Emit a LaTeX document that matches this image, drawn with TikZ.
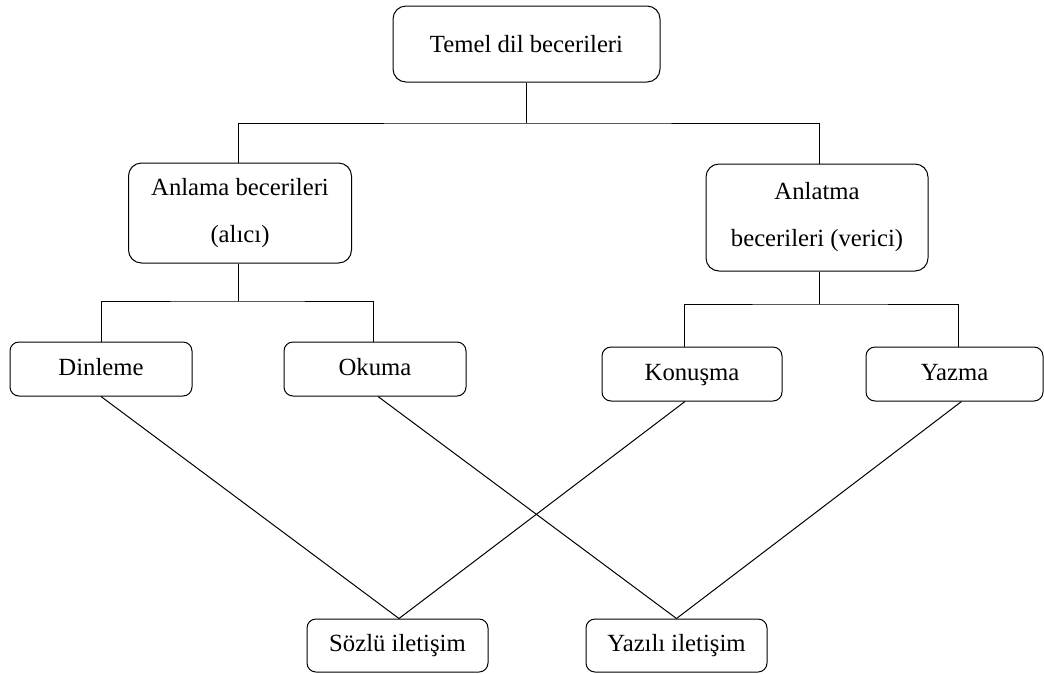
\documentclass[tikz,border=0pt]{standalone}
\usepackage{fontspec}
\setmainfont{Liberation Serif}
\begin{document}
\begin{tikzpicture}[x=1pt,y=-1pt,line width=1pt,
  box/.style={draw, rounded corners=13pt, inner sep=0pt, align=center,
    font=\fontsize{24.7}{47}\selectfont},
  small/.style={draw, rounded corners=9pt, inner sep=0pt,
    text height=17pt, text depth=5pt,
    font=\fontsize{24.7}{30}\selectfont}]
\useasboundingbox (0,0) rectangle (1044,673);
\node[box, minimum width=267pt, minimum height=76pt] (top) at (526.5,44) {Temel dil becerileri};
\node[box, minimum width=223pt, minimum height=100pt] (anla) at (240,213) {Anlama becerileri\\(alıcı)};
\node[box, minimum width=222pt, minimum height=107pt] (anlat) at (817,217.5) {Anlatma\\becerileri (verici)};
\node[small, minimum width=182pt, minimum height=54pt] (din) at (101,369) {Dinleme};
\node[small, minimum width=182pt, minimum height=54pt] (oku) at (375,369) {Okuma};
\node[small, minimum width=180pt, minimum height=54pt] (kon) at (692,374) {Konuşma};
\node[small, minimum width=177pt, minimum height=54pt] (yaz) at (954.5,374) {Yazma};
\node[small, minimum width=181pt, minimum height=53pt] (soz) at (397.5,645.5) {Sözlü iletişim};
\node[small, minimum width=181pt, minimum height=53pt] (yil) at (676.5,645.5) {Yazılı iletişim};
% tree connectors
\coordinate (c1) at (526.5,123);
\coordinate (c2) at (238,301);
\coordinate (c3) at (819,304);
\draw (top.south) -- (c1);
\draw ([xshift=-2pt]anla.north) |- (c1) -| ([xshift=2pt]anlat.north);
\draw ([xshift=-2pt]anla.south) -- (c2);
\draw (din.north) |- (c2) -| ([xshift=-2pt]oku.north);
\draw ([xshift=2pt]anlat.south) -- (c3);
\draw ([xshift=-8pt]kon.north) |- (c3) -| ([xshift=4pt]yaz.north);
% crossing lines
\draw (din.south) -- ([xshift=1.5pt]soz.north);
\draw ([xshift=3pt]oku.south) -- (yil.north);
\draw ([xshift=-7pt]kon.south) -- ([xshift=1.5pt]soz.north);
\draw ([xshift=7pt]yaz.south) -- (yil.north);
\end{tikzpicture}
\end{document}
